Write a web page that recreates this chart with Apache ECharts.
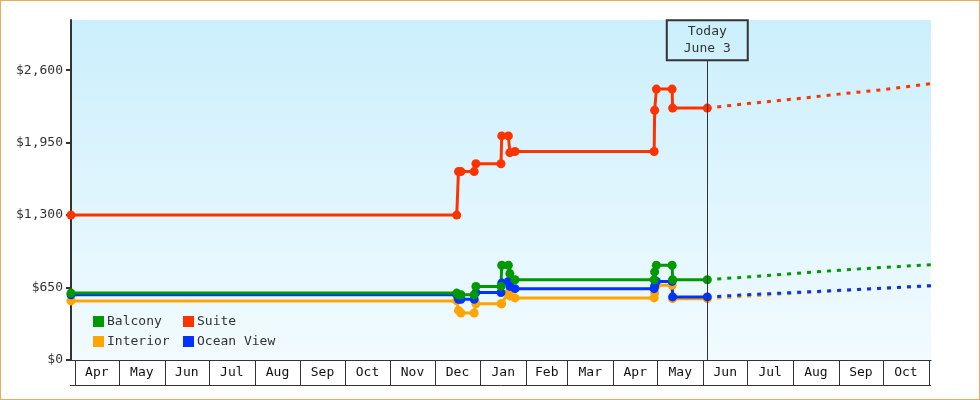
<!DOCTYPE html>
<html>
<head>
<meta charset="utf-8">
<script src="https://cdn.jsdelivr.net/npm/echarts@6/dist/echarts.min.js"></script>
<style>
  html, body { margin: 0; padding: 0; background: #fff; }
  #wrap { position: relative; width: 980px; height: 400px; }
  #chart { width: 980px; height: 400px; }
  #frame { position: absolute; left: 0; top: 0; width: 980px; height: 400px; box-sizing: border-box; border: 1px solid #e9aa66; pointer-events: none; }
</style>
</head>
<body>
<div id="wrap"><div id="chart"></div><div id="frame"></div></div>
<script>
// ---- data ----
const X_MIN = '2024-03-29T12:00';
const X_MAX = '2025-11-02T12:00';
const TODAY = '2025-06-03T20:00';
const TODAY_LABEL = 'Today\nJune 3';

const DATES = [
  '2024-03-29T12:00', '2024-12-16T00:00', '2024-12-17T04:00', '2024-12-18T20:00',
  '2024-12-27T20:00', '2024-12-29T00:00', '2025-01-15T00:00', '2025-01-15T12:00',
  '2025-01-20T00:00', '2025-01-21T00:00', '2025-01-24T12:00', '2025-04-28T20:00',
  '2025-04-29T04:00', '2025-04-30T08:00', '2025-05-11T00:00', '2025-05-11T08:00',
  '2025-06-03T20:00'
];
const BALCONY    = [600, 600, 585, 585, 585, 660, 660, 850, 850, 775, 720, 720, 790, 850, 850, 720, 720];
const SUITE      = [1300, 1300, 1690, 1690, 1690, 1760, 1760, 2010, 2010, 1860, 1870, 1870, 2240, 2430, 2430, 2260, 2260];
const INTERIOR   = [530, 530, 445, 422, 422, 505, 505, 505, 600, 575, 557, 557, 600, 670, 670, 550, 550];
const OCEAN_VIEW = [585, 585, 545, 545, 545, 605, 605, 690, 705, 660, 640, 640, 665, 705, 705, 566, 566];

const PROJ_DATES = ['2025-06-03T20:00', '2025-07-01', '2025-08-01', '2025-09-01', '2025-10-01', '2025-11-02T12:00'];
const BALCONY_PROJ    = [720, 745, 775, 805, 830, 855];
const SUITE_PROJ      = [2260, 2300, 2340, 2385, 2425, 2480];
const INTERIOR_PROJ   = [550, 573, 598, 622, 643, 664];
const OCEAN_VIEW_PROJ = [566, 585, 605, 625, 645, 667];

const MONTH_STARTS = ['2024-04-01','2024-05-01','2024-06-01','2024-07-01','2024-08-01','2024-09-01','2024-10-01',
  '2024-11-01','2024-12-01','2025-01-01','2025-02-01','2025-03-01','2025-04-01','2025-05-01','2025-06-01',
  '2025-07-01','2025-08-01','2025-09-01','2025-10-01','2025-11-01'];
const MONTH_LABELS = ['Apr','May','Jun','Jul','Aug','Sep','Oct','Nov','Dec','Jan','Feb','Mar','Apr','May','Jun','Jul','Aug','Sep','Oct'];

const Y_TICKS = [0, 650, 1300, 1950, 2600];
const Y_MAX = 3050;
const TODAY_LINE_TOP = 2690;

// ---- helpers ----
const FONT = '"DejaVu Sans Mono", "Liberation Mono", monospace';
const INK = '#333333';
const C = { Balcony: '#009900', Suite: '#ff3300', Interior: '#ffa500', 'Ocean View': '#0033ff' };

function pairs(xs, ys) { return xs.map((x, i) => [x, ys[i]]); }

function solid(name, ys) {
  return {
    name: name, type: 'line', data: pairs(DATES, ys),
    symbol: 'circle', symbolSize: 9, showSymbol: true,
    itemStyle: { color: C[name] },
    lineStyle: { color: C[name], width: 3 },
    emphasis: { disabled: true }, silent: true
  };
}
function proj(name, ys) {
  return {
    name: name + ' projection', type: 'line', data: pairs(PROJ_DATES, ys),
    symbol: 'none', itemStyle: { color: C[name] },
    lineStyle: { color: C[name], width: 3, type: [4, 6] },
    emphasis: { disabled: true }, silent: true
  };
}

// [month start, value 0 (axis baseline), month end]
const monthData = MONTH_LABELS.map((m, i) => [MONTH_STARTS[i], 0, MONTH_STARTS[i + 1]]);

const chart = echarts.init(document.getElementById('chart'), null, { renderer: 'canvas' });
const option = {
  animation: false,
  grid: {
    left: 71, right: 49, top: 20, bottom: 40, show: true, borderWidth: 0,
    backgroundColor: new echarts.graphic.LinearGradient(0, 0, 0, 1, [
      { offset: 0, color: '#cbeffc' }, { offset: 1, color: '#f2fbff' }
    ])
  },
  legend: [
    { data: ['Balcony', 'Interior'], orient: 'vertical', left: 93, top: 315, padding: 0,
      itemWidth: 11, itemHeight: 11, itemGap: 7, icon: 'rect', selectedMode: false,
      textStyle: { fontFamily: FONT, fontSize: 13, color: INK, padding: [0, 0, 0, -2] } },
    { data: ['Suite', 'Ocean View'], orient: 'vertical', left: 183, top: 315, padding: 0,
      itemWidth: 11, itemHeight: 11, itemGap: 7, icon: 'rect', selectedMode: false,
      textStyle: { fontFamily: FONT, fontSize: 13, color: INK, padding: [0, 0, 0, -2] } }
  ],
  xAxis: {
    type: 'time', min: X_MIN, max: X_MAX,
    axisLine: { show: true, lineStyle: { color: INK, width: 1 } },
    axisTick: { show: false }, axisLabel: { show: false }, splitLine: { show: false }
  },
  yAxis: {
    type: 'value', min: 0, max: Y_MAX,
    axisLine: { show: true, lineStyle: { color: INK, width: 2 } },
    axisTick: { show: true, customValues: Y_TICKS, length: 5, lineStyle: { color: INK, width: 2 } },
    axisLabel: { customValues: Y_TICKS, margin: 8, fontFamily: FONT, fontSize: 13, color: INK,
      formatter: v => '$' + Number(v).toLocaleString('en-US') },
    splitLine: { show: false }
  },
  series: [
    proj('Interior', INTERIOR_PROJ),
    proj('Ocean View', OCEAN_VIEW_PROJ),
    proj('Balcony', BALCONY_PROJ),
    proj('Suite', SUITE_PROJ),
    solid('Interior', INTERIOR),
    solid('Ocean View', OCEAN_VIEW),
    solid('Balcony', BALCONY),
    Object.assign(solid('Suite', SUITE), {
      markLine: {
        silent: true, symbol: 'none', animation: false,
        lineStyle: { color: INK, width: 1, type: 'solid' },
        label: { show: true, position: 'end', distance: 0, formatter: TODAY_LABEL,
          fontFamily: FONT, fontSize: 13, color: INK, lineHeight: 17, padding: [3, 17],
          borderColor: INK, borderWidth: 1, backgroundColor: 'transparent', align: 'center' },
        data: [[{ coord: [TODAY, 0] }, { coord: [TODAY, TODAY_LINE_TOP] }]]
      }
    }),
    {
      name: 'months', type: 'custom', clip: false, silent: true, z: 1,
      dimensions: [{ name: 'start', type: 'time' }, { name: 'base', type: 'float' }, { name: 'end', type: 'time' }],
      encode: { x: [0, 2], y: 1 },
      data: monthData,
      renderItem: function (params, api) {
        const p0 = api.coord([api.value(0), api.value(1)]);
        const p1 = api.coord([api.value(2), api.value(1)]);
        const y0 = p0[1];
        const x0 = Math.round(p0[0]) + 0.5, x1 = Math.round(p1[0]) + 0.5;
        const children = [
          { type: 'line', shape: { x1: x0, y1: y0, x2: x0, y2: y0 + 25 }, style: { stroke: INK, lineWidth: 1 } },
          { type: 'text', x: (p0[0] + p1[0]) / 2, y: y0 + 13,
            style: { text: MONTH_LABELS[params.dataIndex], align: 'center', verticalAlign: 'middle',
              fontFamily: FONT, fontSize: 13, fill: '#111' } }
        ];
        if (params.dataIndex === MONTH_LABELS.length - 1) {
          children.push({ type: 'line', shape: { x1: x1, y1: y0, x2: x1, y2: y0 + 25 }, style: { stroke: INK, lineWidth: 1 } });
        }
        if (params.dataIndex === 0) {
          const cs = params.coordSys;
          children.push({ type: 'line', shape: { x1: cs.x - 1, y1: Math.round(y0 + 25) + 0.5, x2: cs.x + cs.width, y2: Math.round(y0 + 25) + 0.5 },
            style: { stroke: INK, lineWidth: 1 } });
        }
        return { type: 'group', children: children };
      }
    }
  ]
};
chart.setOption(option);
</script>
</body>
</html>
